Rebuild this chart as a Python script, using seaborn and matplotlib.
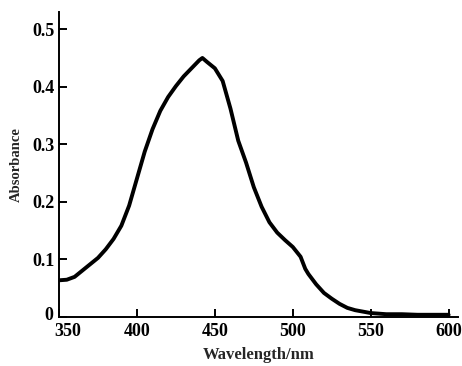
import matplotlib
matplotlib.use("Agg")
import matplotlib.pyplot as plt
import matplotlib.transforms as mtransforms
import seaborn as sns
import pandas as pd

wavelength = [350, 355, 360, 365, 370, 375, 380, 385, 390, 395, 400, 405, 410, 415,
              420, 425, 430, 435, 440, 442, 445, 450, 455, 460, 465, 470, 475, 480,
              485, 490, 495, 500, 505, 508, 510, 515, 520, 525, 530, 535, 540, 546,
              550, 560, 570, 580, 590, 600]
absorbance = [0.063, 0.064, 0.069, 0.080, 0.091, 0.102, 0.117, 0.135, 0.158, 0.193,
              0.240, 0.287, 0.326, 0.358, 0.382, 0.401, 0.418, 0.432, 0.446, 0.450,
              0.443, 0.432, 0.410, 0.362, 0.306, 0.268, 0.225, 0.191, 0.164, 0.146,
              0.133, 0.121, 0.104, 0.083, 0.074, 0.056, 0.041, 0.031, 0.022, 0.015,
              0.011, 0.008, 0.006, 0.004, 0.004, 0.003, 0.003, 0.003]
x_ticks = [350, 400, 450, 500, 550, 600]
x_tick_labels = ["350", "400", "450", "500", "550", "600"]
y_ticks = [0, 0.1, 0.2, 0.3, 0.4, 0.5]
y_tick_labels = ["0", "0.1", "0.2", "0.3", "0.4", "0.5"]

df = pd.DataFrame({"Wavelength": wavelength, "Absorbance": absorbance})

sns.set_style("ticks")
plt.rcParams["font.family"] = ["Liberation Serif", "DejaVu Serif"]

fig = plt.figure(figsize=(4.62, 3.66), dpi=100)
ax = fig.add_axes([59 / 462, (366 - 316.5) / 366, (458 - 59) / 462, (316.5 - 12) / 366])

sns.lineplot(data=df, x="Wavelength", y="Absorbance", ax=ax, color="black",
             linewidth=2.8, solid_joinstyle="round", solid_capstyle="round")

ax.set_xlim(350, 606)
ax.set_ylim(0, 0.53)
ax.set_xticks(x_ticks)
ax.set_xticklabels(x_tick_labels, fontsize=13, fontweight="bold")
ax.set_yticks(y_ticks)
ax.set_yticklabels(y_tick_labels, fontsize=13, fontweight="bold")
ax.tick_params(axis="both", direction="in", length=6, width=1.4, colors="black", pad=3)
ax.tick_params(axis="x", pad=5)

# the first x label sits right of the origin, as in the reference
lbl = ax.get_xticklabels()[0]
lbl.set_transform(lbl.get_transform() + mtransforms.ScaledTranslation(9 / 100, 0, fig.dpi_scale_trans))
ylbl = ax.get_yticklabels()[0]
ylbl.set_transform(ylbl.get_transform() + mtransforms.ScaledTranslation(-2 / 100, 3 / 100, fig.dpi_scale_trans))

for s in ["top", "right"]:
    ax.spines[s].set_visible(False)
for s in ["left", "bottom"]:
    ax.spines[s].set_linewidth(1.4)
    ax.spines[s].set_color("black")

ax.set_xlabel("Wavelength/nm", fontsize=12, fontweight="bold", labelpad=5)
ax.set_ylabel("Absorbance", fontsize=10.5, fontweight="bold", labelpad=7)

fig.savefig("out.png", dpi=100)
